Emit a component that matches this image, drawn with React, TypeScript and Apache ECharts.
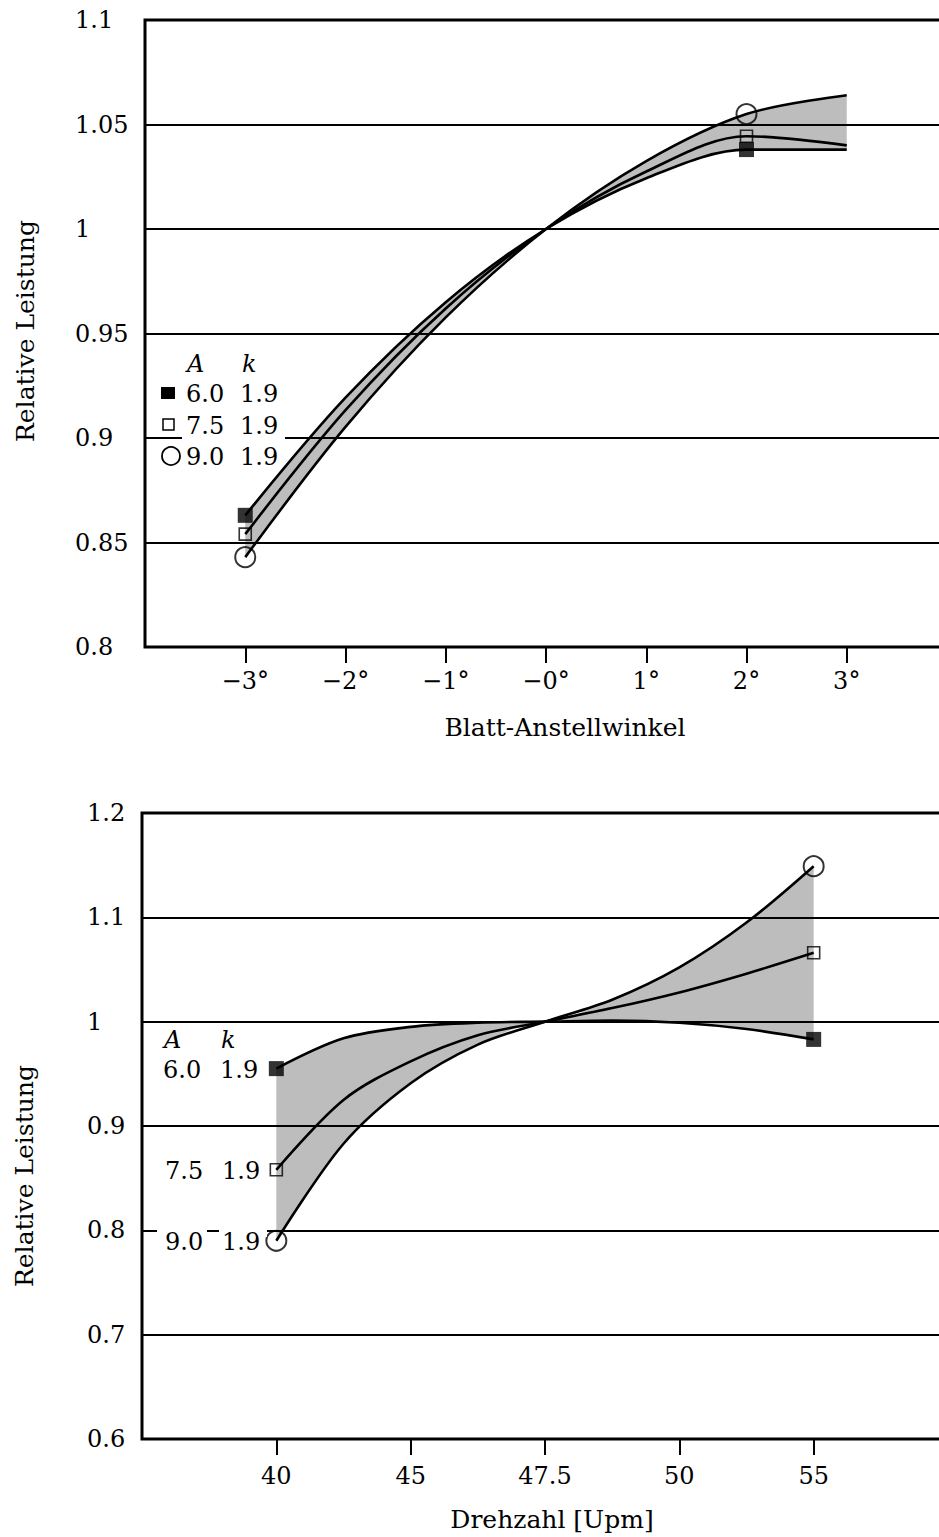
import React, { useEffect, useRef } from "react";
import * as echarts from "echarts";

// ---------- Top chart: Blatt-Anstellwinkel ----------
const topX = [-3, -2, -1, 0, 1, 2, 3];
const topA60 = [0.863, 0.9193, 0.965, 1.0, 1.0243, 1.038, 1.038];
const topA75 = [0.854, 0.9133, 0.962, 1.0, 1.0275, 1.0444, 1.04];
const topA90 = [0.843, 0.9053, 0.9577, 1.0, 1.0325, 1.055, 1.064];
const topMarkerX = [-3, 2];
const topMarker60 = [0.863, 1.038];
const topMarker75 = [0.854, 1.0444];
const topMarker90 = [0.843, 1.055];
const topTickValues = [-3, -2, -1, 0, 1, 2, 3];
const topTickLabels = ["−3°", "−2°", "−1°", "−0°", "1°", "2°", "3°"];

// ---------- Bottom chart: Drehzahl ----------
const botCategories = ["40", "45", "47.5", "50", "55"];
const botTickValues = [0, 1, 2, 3, 4];
const botX = [0, 0.5, 1, 1.5, 2, 2.5, 3, 3.5, 4]; // position on the evenly spaced category scale
const botA60 = [0.955, 0.984, 0.995, 0.999, 1.0, 1.001, 0.999, 0.993, 0.983];
const botA75 = [0.858, 0.925, 0.962, 0.987, 1.0, 1.013, 1.028, 1.046, 1.066];
const botA90 = [0.79, 0.883, 0.941, 0.978, 1.0, 1.021, 1.052, 1.095, 1.149];
const botMarkerX = [0, 4];
const botMarker60 = [0.955, 0.983];
const botMarker75 = [0.858, 1.066];
const botMarker90 = [0.79, 1.149];

const legendA = ["6.0", "7.5", "9.0"];
const legendK = ["1.9", "1.9", "1.9"];

const FONT = "DejaVu Serif";
const FS = 24;
const TITLE_FS = 25;
const SMOOTH = 0.33;

function pairs(xs: number[], ys: number[]) {
  return xs.map((x, i) => [x, ys[i]]);
}

// data given as [y, x] so that the stacked dimension is the y value
function bandSeries(xs: number[], a: number[], b: number[], c: number[], idx: number, stack: string) {
  const lo = xs.map((x, i) => [Math.min(a[i], b[i], c[i]), x]);
  const diff = xs.map((x, i) => [Math.max(a[i], b[i], c[i]) - Math.min(a[i], b[i], c[i]), x]);
  const common = {
    type: "line", xAxisIndex: idx, yAxisIndex: idx, stack, smooth: SMOOTH,
    symbol: "none", silent: true, z: 1, encode: { x: 1, y: 0 },
    lineStyle: { width: 0, opacity: 0 },
  };
  return [
    { ...common, data: lo },
    { ...common, data: diff, areaStyle: { color: "rgba(0,0,0,0.26)", opacity: 1 } },
  ];
}

function curve(xs: number[], ys: number[], idx: number) {
  return {
    type: "line", xAxisIndex: idx, yAxisIndex: idx, data: pairs(xs, ys), smooth: SMOOTH,
    symbol: "none", lineStyle: { color: "#000", width: 2.6 }, z: 3,
  };
}

function markers(xs: number[], ys: number[], idx: number, kind: "filled" | "open" | "circle") {
  const base: any = {
    type: "scatter", xAxisIndex: idx, yAxisIndex: idx, data: pairs(xs, ys), z: 5,
  };
  if (kind === "filled") {
    return { ...base, symbol: "rect", symbolSize: 15, itemStyle: { color: "#000" } };
  }
  if (kind === "open") {
    return {
      ...base, symbol: "rect", symbolSize: 12,
      itemStyle: { color: "rgba(255,255,255,0)", borderColor: "#000", borderWidth: 1.6 },
    };
  }
  return {
    ...base, symbol: "circle", symbolSize: 20,
    itemStyle: { color: "rgba(255,255,255,0)", borderColor: "#000", borderWidth: 2 },
  };
}

function txt(x: number, y: number, text: string, extra: any = {}) {
  const size = extra.size || FS;
  return {
    type: "text", x, y, z: 100, rotation: extra.rotation || 0,
    style: {
      text, fill: "#000", font: `${extra.italic ? "italic " : ""}${size}px '${FONT}'`,
      textAlign: extra.align || "left", textVerticalAlign: "middle",
    },
  };
}

export default function App() {
  const ref = useRef<HTMLDivElement>(null);

  useEffect(() => {
    document.body.style.margin = "0";
    if (!ref.current) return;
    const chart = echarts.init(ref.current, undefined, { renderer: "svg" });

    const yAxisCommon = {
      type: "value",
      axisLine: { show: false },
      axisTick: { show: false },
      splitLine: { show: true, lineStyle: { color: "#000", width: 1.8 } },
      axisLabel: { color: "#000", fontFamily: FONT, fontSize: FS, align: "left" },
    };

    const xAxisCommon = {
      type: "value",
      axisLine: { show: false },
      splitLine: { show: false },
      axisTick: { show: true, length: 16, lineStyle: { color: "#000", width: 2 } },
      axisLabel: { color: "#000", fontFamily: FONT, fontSize: FS, margin: 22 },
    };

    const graphics: any[] = [
      // y-axis names
      txt(25, 331, "Relative Leistung", { align: "center", rotation: Math.PI / 2, size: TITLE_FS }),
      txt(24, 1176, "Relative Leistung", { align: "center", rotation: Math.PI / 2, size: TITLE_FS }),
      // x-axis names
      txt(565, 727, "Blatt-Anstellwinkel", { align: "center", size: TITLE_FS }),
      txt(552, 1519, "Drehzahl [Upm]", { align: "center", size: TITLE_FS }),

      // top legend
      { type: "rect", shape: { x: 182, y: 432, width: 103, height: 12 }, style: { fill: "#fff" }, z: 90 },
      txt(187, 364, "A", { italic: true }),
      txt(242, 364, "k", { italic: true }),
      { type: "rect", shape: { x: 161, y: 387, width: 14, height: 12 }, style: { fill: "#000" }, z: 100 },
      { type: "rect", shape: { x: 163, y: 419, width: 11, height: 11 }, style: { fill: "none", stroke: "#000", lineWidth: 1.5 }, z: 100 },
      { type: "circle", shape: { cx: 171, cy: 456, r: 9 }, style: { fill: "none", stroke: "#000", lineWidth: 1.8 }, z: 100 },
      txt(186, 394, legendA[0]), txt(240, 394, legendK[0]),
      txt(186, 426, legendA[1]), txt(240, 426, legendK[1]),
      txt(186, 457, legendA[2]), txt(240, 457, legendK[2]),

      // bottom legend
      { type: "rect", shape: { x: 157, y: 1225, width: 50, height: 12 }, style: { fill: "#fff" }, z: 90 },
      { type: "rect", shape: { x: 219, y: 1225, width: 48, height: 12 }, style: { fill: "#fff" }, z: 90 },
      txt(164, 1040, "A", { italic: true }),
      txt(221, 1040, "k", { italic: true }),
      txt(163, 1070, legendA[0]), txt(220, 1070, legendK[0]),
      txt(165, 1171, legendA[1]), txt(222, 1171, legendK[1]),
      txt(165, 1242, legendA[2]), txt(222, 1242, legendK[2]),
    ];

    const option: any = {
      animation: false,
      backgroundColor: "#fff",
      textStyle: { fontFamily: FONT },
      grid: [
        { left: 145, right: 13, top: 20, height: 627, show: true, borderColor: "#000", borderWidth: 3, backgroundColor: "transparent" },
        { left: 142, right: 12, top: 813, height: 626, show: true, borderColor: "#000", borderWidth: 3, backgroundColor: "transparent" },
      ],
      xAxis: [
        {
          ...xAxisCommon, gridIndex: 0, min: -4, max: 4, interval: 1,
          axisTick: { ...xAxisCommon.axisTick, customValues: topTickValues },
          axisLabel: {
            ...xAxisCommon.axisLabel, customValues: topTickValues,
            formatter: (v: number) => {
              const i = topTickValues.indexOf(Math.round(v));
              return i >= 0 ? topTickLabels[i] : "";
            },
          },
        },
        {
          ...xAxisCommon, gridIndex: 1, min: -1, max: 5, interval: 1,
          axisTick: { ...xAxisCommon.axisTick, customValues: botTickValues },
          axisLabel: {
            ...xAxisCommon.axisLabel, margin: 25, customValues: botTickValues,
            formatter: (v: number) => {
              const i = botTickValues.indexOf(Math.round(v));
              return i >= 0 ? botCategories[i] : "";
            },
          },
        },
      ],
      yAxis: [
        {
          ...yAxisCommon, gridIndex: 0, min: 0.8, max: 1.1, interval: 0.05,
          axisLabel: { ...yAxisCommon.axisLabel, margin: 70, formatter: (v: number) => String(Math.round(v * 100) / 100) },
        },
        {
          ...yAxisCommon, gridIndex: 1, min: 0.6, max: 1.2, interval: 0.1,
          axisLabel: { ...yAxisCommon.axisLabel, margin: 55, formatter: (v: number) => String(Math.round(v * 10) / 10) },
        },
      ],
      series: [
        ...bandSeries(topX, topA60, topA75, topA90, 0, "topBand"),
        curve(topX, topA60, 0),
        curve(topX, topA75, 0),
        curve(topX, topA90, 0),
        markers(topMarkerX, topMarker60, 0, "filled"),
        markers(topMarkerX, topMarker75, 0, "open"),
        markers(topMarkerX, topMarker90, 0, "circle"),

        ...bandSeries(botX, botA60, botA75, botA90, 1, "botBand"),
        curve(botX, botA60, 1),
        curve(botX, botA75, 1),
        curve(botX, botA90, 1),
        markers(botMarkerX, botMarker60, 1, "filled"),
        markers(botMarkerX, botMarker75, 1, "open"),
        markers(botMarkerX, botMarker90, 1, "circle"),
      ],
      graphic: { elements: graphics },
    };

    chart.setOption(option);
    return () => chart.dispose();
  }, []);

  return (
    <div style={{ width: 939, height: 1537, overflow: "hidden", position: "relative", background: "#fff" }}>
      <div ref={ref} style={{ width: 960, height: 1537 }} />
    </div>
  );
}
